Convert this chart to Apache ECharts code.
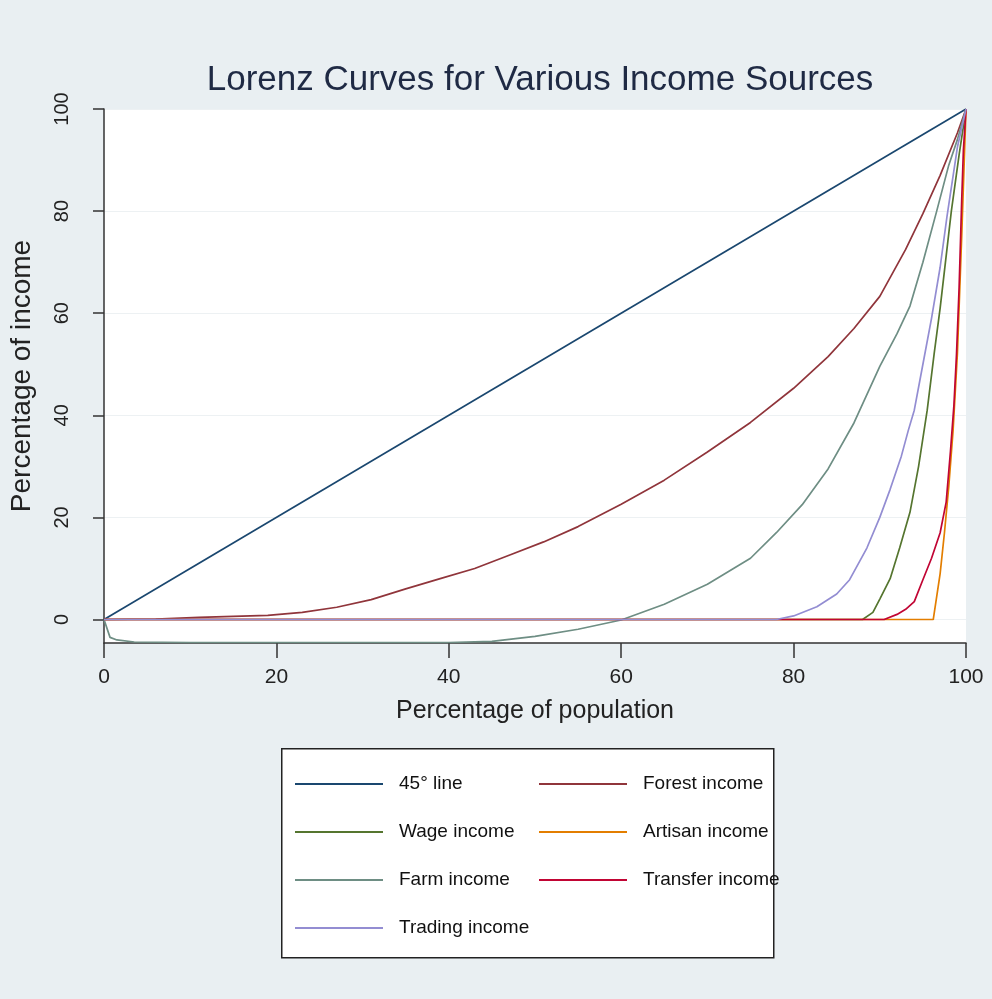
<!DOCTYPE html>
<html>
<head>
<meta charset="utf-8">
<script src="https://cdn.jsdelivr.net/npm/echarts@6/dist/echarts.min.js"></script>
<style>
html,body{margin:0;padding:0;background:#e9eff2;}
#chart{width:992px;height:999px;}
</style>
</head>
<body>
<div id="chart"></div>
<script>
// ---- data (x = % of population, y = % of income) ----
var seriesNames = ['45° line','Forest income','Wage income','Artisan income','Farm income','Transfer income','Trading income'];
var xTicks = [0,20,40,60,80,100];
var yTicks = [0,20,40,60,80,100];

var line45 = [[0,0],[100,100]];
var forestIncome = [[0,0],[6,0.1],[11,0.4],[19,0.8],[23,1.4],[27,2.4],[31,3.9],[35,6],[39,8],[43,10],[47,12.6],[51,15.2],[55,18.2],[60,22.6],[65,27.3],[70,32.8],[75,38.6],[80,45.3],[84,51.5],[87,57],[90,63.3],[93,72.5],[95,79.5],[97,87],[99,95.3],[100,100]];
var wageIncome = [[0,0],[88,0],[89.2,1.4],[90,4],[91.2,8],[92.3,14],[93.5,21],[94.5,30],[95.5,41],[96.3,52],[97,61],[98.3,80],[99.2,91],[100,100]];
var artisanIncome = [[0,0],[96.2,0],[97,9],[97.5,17],[98,26],[98.5,37],[99,52],[99.5,75],[100,100]];
var farmIncome = [[0,0],[0.7,-3.5],[1.5,-4],[3.5,-4.4],[10,-4.5],[40,-4.5],[45,-4.3],[50,-3.3],[55,-1.9],[60,-0.1],[65,3],[70,6.9],[75,12],[78,17],[81,22.5],[84,29.5],[87,38.5],[90,49.6],[92,56],[93.5,61.4],[95,70],[96.6,80],[98,89],[99,94],[100,100]];
var transferIncome = [[0,0],[90.5,0],[92,1],[93,2],[94,3.5],[95,7.8],[96,12],[97,17],[97.7,23],[98.2,33],[98.6,42],[98.9,52],[99.2,65],[99.5,82],[99.7,92],[100,100]];
var tradingIncome = [[0,0],[78,0],[80,0.7],[82.7,2.5],[85,5],[86.5,7.8],[88.5,14],[90,20],[91.2,25.5],[92.5,32],[93.3,37],[94,41],[95,50],[96,59],[97,69],[97.8,79],[99,92.5],[100,100]];

var seriesData = [line45, forestIncome, wageIncome, artisanIncome, farmIncome, transferIncome, tradingIncome];
var colors = ['#1a476f','#90353b','#55752f','#e37e00','#6e8e84','#c10534','#938dd2'];

var sans = "'Liberation Sans',Arial,sans-serif";

var chart = echarts.init(document.getElementById('chart'), null, {renderer:'canvas'});

var series = seriesNames.map(function(n, i){
  return {
    name: n, type: 'line', data: seriesData[i], symbol: 'none', showSymbol: false,
    lineStyle: {color: colors[i], width: 1.7}, itemStyle: {color: colors[i]},
    z: 2 + i, silent: true
  };
});

function legendCfg(names, left){
  return {
    orient: 'vertical', left: left, top: 767, data: names,
    icon: 'rect', itemWidth: 88, itemHeight: 2, itemGap: 24,
    textStyle: {fontFamily: sans, fontSize: 19, color: '#111', lineHeight: 24, padding: [0,0,0,11]},
    selectedMode: false
  };
}

chart.setOption({
  animation: false,
  backgroundColor: '#e9eff2',
  color: colors,
  title: {
    text: 'Lorenz Curves for Various Income Sources',
    left: 535, textAlign: 'center', top: 58,
    textStyle: {fontFamily: sans, fontSize: 35, fontWeight: 'normal', color: '#1f2a44'}
  },
  grid: {left: 104, right: 26, top: 109, bottom: 356, show: true, backgroundColor: '#ffffff', borderWidth: 0, containLabel: false, outerBoundsMode: 'none'},
  xAxis: {
    type: 'value', min: 0, max: 100, interval: 20,
    axisLine: {show: true, onZero: false, lineStyle: {color: '#333', width: 1.5}},
    axisTick: {show: true, length: 15, lineStyle: {color: '#333', width: 1.5}},
    axisLabel: {margin: 24, fontFamily: sans, fontSize: 21, color: '#222'},
    splitLine: {show: false},
    name: 'Percentage of population', nameLocation: 'middle', nameGap: 56,
    nameTextStyle: {fontFamily: sans, fontSize: 25, color: '#222'}
  },
  yAxis: {
    type: 'value', min: -4.6, max: 100,
    axisLine: {show: true, lineStyle: {color: '#333', width: 1.5}},
    axisTick: {show: true, length: 11, customValues: yTicks, lineStyle: {color: '#333', width: 1.5}},
    axisLabel: {customValues: yTicks, rotate: 90, margin: 32, fontFamily: sans, fontSize: 20, color: '#222'},
    splitLine: {show: true, lineStyle: {color: '#edf1f3', width: 1}},
    name: 'Percentage of income', nameLocation: 'middle', nameGap: 68,
    nameTextStyle: {fontFamily: sans, fontSize: 28, color: '#222'}
  },
  graphic: [{
    type: 'rect', left: 281, top: 748, z: -1,
    shape: {width: 492, height: 209},
    style: {fill: '#ffffff', stroke: '#222', lineWidth: 1.5}
  }],
  legend: [
    legendCfg([seriesNames[0], seriesNames[2], seriesNames[4], seriesNames[6]], 290),
    legendCfg([seriesNames[1], seriesNames[3], seriesNames[5]], 534)
  ],
  series: series
});
</script>
</body>
</html>
